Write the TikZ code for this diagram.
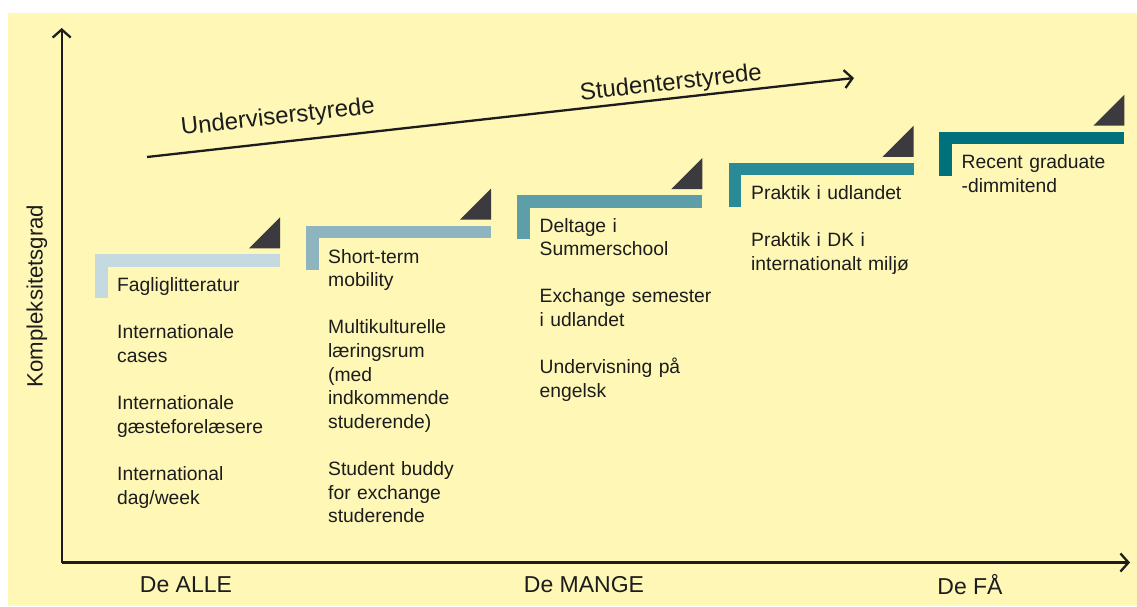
\documentclass[tikz,border=0pt]{standalone}
\usepackage{fontspec}
\setmainfont{Liberation Sans}
\usetikzlibrary{arrows.meta}
\definecolor{bg}{HTML}{FEF7B6}
\definecolor{ink}{HTML}{1C1C1C}
\definecolor{triC}{HTML}{3B3A3E}
\definecolor{sA}{HTML}{C5D9E0}
\definecolor{sB}{HTML}{8DB4BF}
\definecolor{sC}{HTML}{5E9EA9}
\definecolor{sD}{HTML}{2A8A95}
\definecolor{sE}{HTML}{00707A}
\tikzset{
  axis/.style={draw=ink, line width=2.3pt, -{Straight Barb[length=8pt,width=18pt]}},
  body/.style={font=\fontsize{19.3pt}{23.6pt}\selectfont, text=ink, anchor=base west, inner sep=0pt, align=left, text width=200pt},
  big/.style={font=\fontsize{23pt}{27pt}\selectfont, text=ink, inner sep=0pt},
  slope/.style={big, font=\fontsize{24pt}{28pt}\selectfont, rotate=6.37},
  tri/.style={fill=triC},
}
\newcommand{\stepshape}[3]{% x, y(top of bar), colour
  \fill[#3] (#1,#2) rectangle ++(185,12.6);
  \fill[#3] (#1,#2) rectangle ++(12.7,44);
  \fill[tri] (#1+154,#2-6) -- (#1+185,#2-6) -- (#1+185,#2-37) -- cycle;
}
\begin{document}
\begin{tikzpicture}[x=1pt,y=-1pt]
\useasboundingbox (0,0) rectangle (1137,606);
\fill[bg] (8,12.7) rectangle (1137,606);

% axes
\coordinate (origin) at (61.7,562.5);
\coordinate (ytop) at (61.7,28);
\coordinate (xend) at (1130,562.5);
\draw[axis] (origin) -- (ytop);
\draw[axis] (origin) -- (xend);
\node[big, font=\fontsize{22.2pt}{26pt}\selectfont, rotate=90] (ylab) at (37,296) {Kompleksitetsgrad};
\node[big] (alle) at (186,585) {De ALLE};
\node[big] (mange) at (584,585) {De MANGE};
\node[big] (faa) at (970,585) {De FÅ};

% diagonal
\coordinate (d0) at (147,157);
\coordinate (d1) at (854,78);
\draw[axis] (d0) -- (d1);
\node[slope] (und) at (278,118) {Underviserstyrede};
\node[slope] (stu) at (671,84) {Studenterstyrede};

% steps
\stepshape{95}{254.3}{sA}
\stepshape{306}{225.5}{sB}
\stepshape{517.3}{195}{sC}
\stepshape{728.5}{162.8}{sD}
\stepshape{939.3}{131.7}{sE}

% step 1 texts
\node[body] (a1) at (117,291.7) {Fagliglitteratur};
\node[body] (a2) at (117,291.7+2*23.6) {Internationale\\cases};
\node[body] (a3) at (117,291.7+5*23.6) {Internationale\\gæsteforelæsere};
\node[body] (a4) at (117,291.7+8*23.6) {International\\dag/week};
% step 2
\node[body] (b1) at (328,263) {Short-term\\mobility};
\node[body] (b2) at (328,263+3*23.6) {Multikulturelle\\læringsrum\\(med\\indkommende\\studerende)};
\node[body] (b3) at (328,263+9*23.6) {Student buddy\\for exchange\\studerende};
% step 3
\node[body] (c1) at (539.5,232) {Deltage i\\Summerschool};
\node[body] (c2) at (539.5,232+3*23.6) {Exchange semester\\i udlandet};
\node[body] (c3) at (539.5,232+6*23.6) {Undervisning på\\engelsk};
% step 4
\node[body] (d1n) at (751,199.6) {Praktik i udlandet};
\node[body] (d2n) at (751,199.6+2*23.6) {Praktik i DK i\\internationalt miljø};
% step 5
\node[body] (e1) at (961.5,168.5) {Recent graduate\\-dimmitend};
\end{tikzpicture}
\end{document}
